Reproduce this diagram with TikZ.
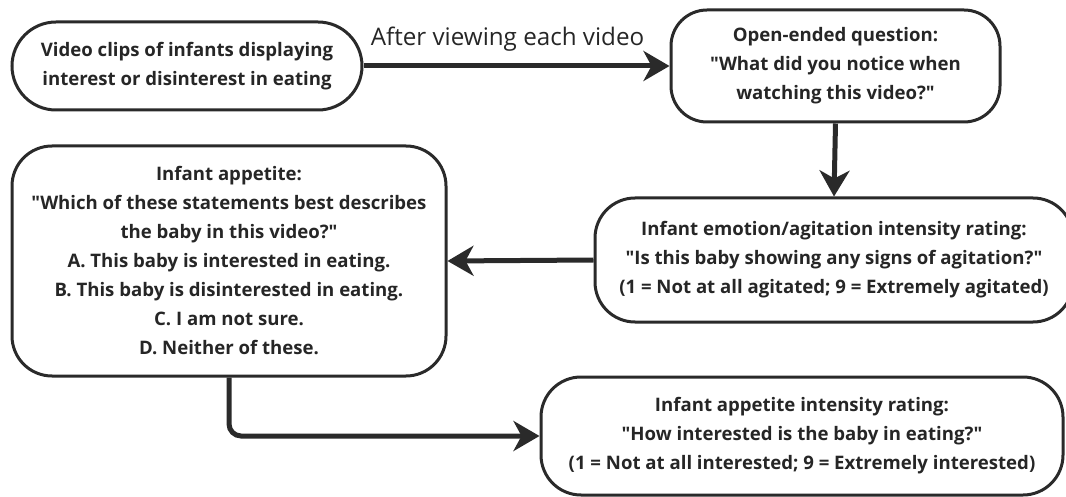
\documentclass[tikz,border=0pt]{standalone}
\usepackage{fontspec}
\setmainfont{Open Sans}
\usetikzlibrary{arrows.meta}
\definecolor{ink}{HTML}{262626}
\definecolor{edge}{HTML}{2A2A2A}
\newcommand{\qq}{\textquotedbl}
\tikzset{
  box/.style={draw=edge, line width=3pt, fill=white, text=ink, align=center,
    font=\fontsize{18.6}{29}\selectfont\bfseries, inner sep=0pt},
  flow/.style={draw=edge, line width=5pt,
    -{Stealth[length=26pt,width=30pt,inset=8pt]}},
  lbl/.style={text=ink, font=\fontsize{24.2}{28}\selectfont}
}
\begin{document}
\begin{tikzpicture}[x=1pt,y=-1pt]
\useasboundingbox (0,0) rectangle (1066,497);
\clip (0,0) rectangle (1066,497);

\node[box, minimum width=350pt, minimum height=88pt, rounded corners=44pt] (clips) at (187,66)
  {Video clips of infants displaying\\interest or disinterest in eating};
\node[box, minimum width=329pt, minimum height=112pt, rounded corners=36pt] (open) at (835.5,66)
  {Open-ended question:\\\qq What did you notice when\\watching this video?\qq};
\node[box, minimum width=478pt, minimum height=124pt, rounded corners=40pt] (agit) at (834,260)
  {Infant emotion/agitation intensity rating:\\\qq Is this baby showing any signs of agitation?\qq\\(1 = Not at all agitated; 9 = Extremely agitated)};
\node[box, minimum width=434pt, minimum height=230pt, rounded corners=40pt] (app) at (229,261)
  {Infant appetite:\\\qq Which of these statements best describes\\the baby in this video?\qq\\A. This baby is interested in eating.\\B. This baby is disinterested in eating.\\C. I am not sure.\\D. Neither of these.};
\node[box, minimum width=522pt, minimum height=118pt, rounded corners=40pt] (rate) at (802,436)
  {Infant appetite intensity rating:\\\qq How interested is the baby in eating?\qq\\(1 = Not at all interested; 9 = Extremely interested)};

\draw[flow] (clips.east) -- node[lbl, above=9pt, xshift=-9pt] {After viewing each video} (open.west);
\draw[flow] (open.south) -- (agit.north);
\draw[flow] (agit.west) -- (app.east);
\draw[flow, rounded corners=12pt] (app.south) |- (rate.west);
\end{tikzpicture}
\end{document}
